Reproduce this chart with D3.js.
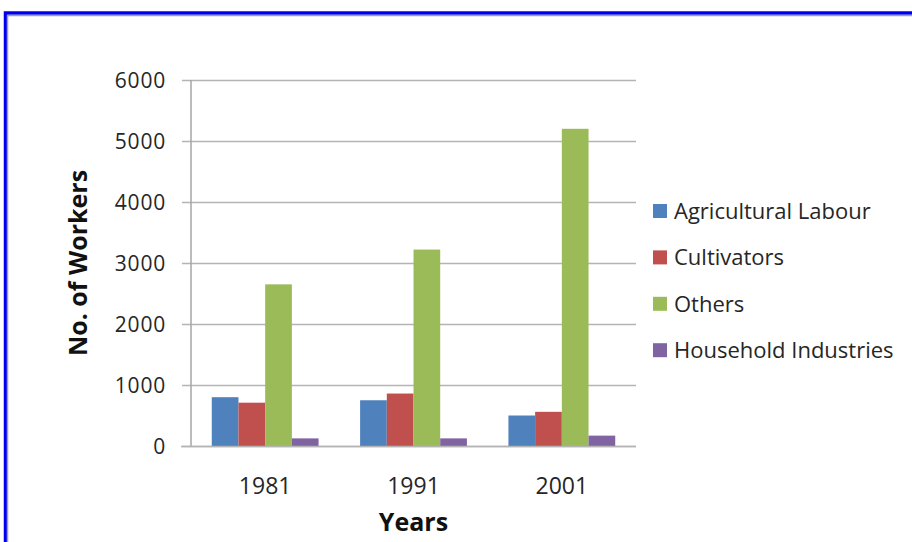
<!DOCTYPE html>
<html>
<head>
<meta charset="utf-8">
<script src="https://cdn.jsdelivr.net/npm/d3@7.9.0/dist/d3.min.js"></script>
<style>
  html, body { margin: 0; padding: 0; background: #fff; }
  svg { display: block; font-family: 'Open Sans', sans-serif; }
</style>
</head>
<body>
<svg id="chart" width="912" height="542"></svg>
<script>
const years = ['1981', '1991', '2001'];
const seriesNames = ['Agricultural Labour', 'Cultivators', 'Others', 'Household Industries'];
const agriculturalLabour = [800, 750, 500];
const cultivators = [710, 860, 560];
const others = [2650, 3220, 5200];
const householdIndustries = [125, 125, 170];
const yTicks = [0, 1000, 2000, 3000, 4000, 5000, 6000];

const seriesValues = [agriculturalLabour, cultivators, others, householdIndustries];
const colors = ['#4f81bd', '#c0504d', '#9bbb59', '#8064a2'];
const font = "'Open Sans', sans-serif";

const svg = d3.select('#chart');

// frame (blue outer line with a thin grey inner line)
svg.append('path')
  .attr('d', 'M5.5,542 V13 H912')
  .attr('fill', 'none').attr('stroke', '#0000ee').attr('stroke-width', 3.5);
svg.append('path')
  .attr('d', 'M7.5,542 V15.5 H912')
  .attr('fill', 'none').attr('stroke', '#a0a0a0').attr('stroke-width', 1.5);

const plot = { left: 191, right: 636, top: 80, bottom: 446 };

const x = d3.scaleBand()
  .domain(years)
  .range([plot.left, plot.right])
  .paddingInner(0.28)
  .paddingOuter(0.14);

const xSub = d3.scaleBand()
  .domain(seriesNames)
  .range([0, x.bandwidth()]);

const y = d3.scaleLinear()
  .domain([0, 6000])
  .range([plot.bottom, plot.top]);

// gridlines + y ticks
const yAxis = svg.append('g')
  .attr('transform', `translate(${plot.left},0)`)
  .call(d3.axisLeft(y)
    .tickValues(yTicks)
    .tickSize(-(plot.right - plot.left))
    .tickPadding(25)
    .tickFormat(d3.format('d')))
  .attr('font-family', font);
yAxis.select('.domain').remove();
yAxis.selectAll('.tick line')
  .attr('stroke', '#b4b4b4')
  .attr('stroke-width', 1.5)
  .attr('x1', -9);
yAxis.selectAll('.tick text')
  .attr('fill', '#262626')
  .style('font-size', '21px')
  .style('letter-spacing', '0.8px')
  .attr('dy', '0.36em');

// y axis line
svg.append('line')
  .attr('x1', plot.left).attr('x2', plot.left)
  .attr('y1', plot.top).attr('y2', plot.bottom)
  .attr('stroke', '#a6a6a6').attr('stroke-width', 1.5);

// bars
const groups = svg.append('g').selectAll('g')
  .data(years)
  .join('g')
  .attr('transform', d => `translate(${x(d)},0)`);

groups.selectAll('rect')
  .data((d, i) => seriesNames.map((s, j) => ({ series: s, value: seriesValues[j][i], color: colors[j] })))
  .join('rect')
  .attr('x', d => xSub(d.series))
  .attr('width', xSub.bandwidth())
  .attr('y', d => y(d.value))
  .attr('height', d => y(0) - y(d.value))
  .attr('fill', d => d.color);

// x axis
const xAxis = svg.append('g')
  .attr('transform', `translate(0,${plot.bottom})`)
  .call(d3.axisBottom(x).tickSize(0).tickPadding(32))
  .attr('font-family', font);
xAxis.select('.domain')
  .attr('d', `M${plot.left - 10},0.5H${plot.right}`)
  .attr('stroke', '#b4b4b4')
  .attr('stroke-width', 1.5);
xAxis.selectAll('.tick text')
  .attr('fill', '#262626')
  .style('font-size', '23px');

// axis titles
svg.append('text')
  .attr('x', (plot.left + plot.right) / 2)
  .attr('y', 531)
  .attr('text-anchor', 'middle')
  .attr('font-weight', 'bold')
  .attr('font-size', 25)
  .attr('fill', '#111')
  .text('Years');

svg.append('text')
  .attr('transform', `translate(87,${(plot.top + plot.bottom) / 2}) rotate(-90)`)
  .attr('text-anchor', 'middle')
  .attr('font-weight', 'bold')
  .attr('font-size', 25)
  .attr('fill', '#111')
  .text('No. of Workers');

// legend
const legend = svg.append('g')
  .attr('transform', 'translate(653,211)')
  .selectAll('g')
  .data(seriesNames)
  .join('g')
  .attr('transform', (d, i) => `translate(0,${i * 46.4})`);
legend.append('rect')
  .attr('x', 0).attr('y', -7)
  .attr('width', 14).attr('height', 14)
  .attr('fill', (d, i) => colors[i]);
legend.append('text')
  .attr('x', 21)
  .attr('dy', '0.36em')
  .attr('font-size', 22)
  .attr('fill', '#262626')
  .text(d => d);
</script>
</body>
</html>
